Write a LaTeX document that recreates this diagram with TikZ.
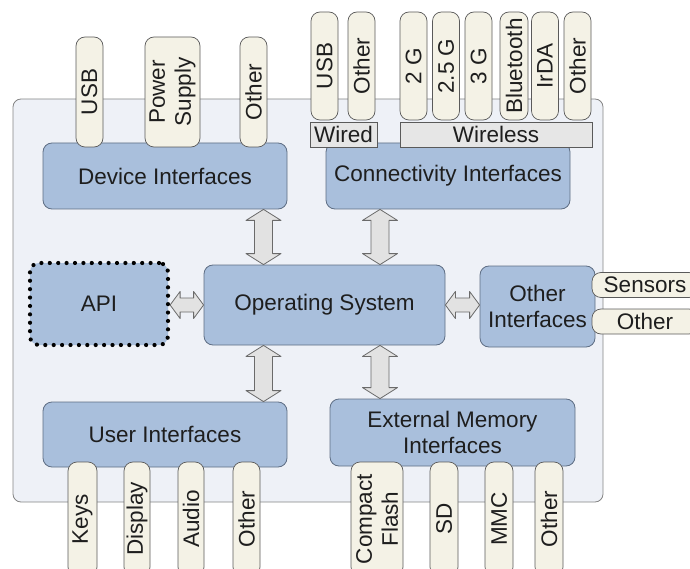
\documentclass[tikz,border=0pt]{standalone}
\usepackage{fontspec}
\setmainfont{Liberation Sans}
\usetikzlibrary{calc,positioning}

\definecolor{boardfill}{HTML}{EEF1F7}
\definecolor{boardline}{HTML}{858585}
\definecolor{boxfill}{HTML}{A9BFDC}
\definecolor{boxline}{HTML}{5E6E84}
\definecolor{tabfill}{HTML}{F4F2E6}
\definecolor{tabline}{HTML}{5A5A5A}
\definecolor{labfill}{HTML}{E6E6E6}
\definecolor{arrfill}{HTML}{E2E2E2}
\definecolor{arrline}{HTML}{6A6A6A}
\definecolor{txt}{HTML}{1E1E1E}

\tikzset{
  txtfont/.style={font=\fontsize{22.5}{26}\selectfont, text=txt},
  board/.style={draw=boardline, fill=boardfill, rounded corners=8pt, line width=0.8pt},
  block/.style={txtfont, draw=boxline, fill=boxfill, rounded corners=9pt, line width=0.8pt,
    align=center, inner sep=0pt},
  apibox/.style={block, draw=black, line width=4.2pt, line cap=round,
    dash pattern=on 0pt off 8.4pt},
  tabv/.style={txtfont, draw=tabline, fill=tabfill, rounded corners=9pt, rotate=90,
    inner sep=0pt, minimum height=27pt, align=center, line width=0.7pt},
  tabh/.style={txtfont, draw=tabline, fill=tabfill, rounded corners=9pt,
    inner sep=0pt, minimum width=106pt, minimum height=25pt, line width=0.7pt},
  grp/.style={txtfont, draw=tabline, fill=labfill, inner sep=0pt, minimum height=25pt,
    line width=0.7pt},
  dblarr/.style n args={3}{draw=arrline, fill=arrfill, line width=0.8pt, line join=round,
    to path={
      -- ($(\tikztostart)!#1!(\tikztotarget)!#2!90:(\tikztotarget)$)
      -- ($(\tikztostart)!#1!(\tikztotarget)!#3!90:(\tikztotarget)$)
      -- ($(\tikztotarget)!#1!(\tikztostart)!#3!-90:(\tikztostart)$)
      -- ($(\tikztotarget)!#1!(\tikztostart)!#2!-90:(\tikztostart)$)
      -- (\tikztotarget)
      -- ($(\tikztotarget)!#1!(\tikztostart)!#2!90:(\tikztostart)$)
      -- ($(\tikztotarget)!#1!(\tikztostart)!#3!90:(\tikztostart)$)
      -- ($(\tikztostart)!#1!(\tikztotarget)!#3!-90:(\tikztotarget)$)
      -- ($(\tikztostart)!#1!(\tikztotarget)!#2!-90:(\tikztotarget)$)
      -- cycle}},
  vconn/.style={dblarr={11pt}{17.5pt}{9pt}},
  hconn/.style={dblarr={10pt}{13.5pt}{7pt}}
}

\begin{document}
\begin{tikzpicture}[x=1pt,y=-1pt]
\useasboundingbox (0,0) rectangle (690,569);

% board
\draw[board] (13,99) rectangle (603,502);

% blocks
\node[block, minimum width=244pt, minimum height=66pt] (dev) at (165,176) {Device Interfaces};
\node[block, minimum width=244pt, minimum height=66pt] (conn) at (448,176) {Connectivity Interfaces};
\node[apibox, minimum width=138pt, minimum height=82pt] (api) at (99,304) {API};
\node[block, minimum width=241pt, minimum height=80pt] (os) at (324.5,305) {Operating System};
\node[block, minimum width=115pt, minimum height=81pt] (oth) at (537.5,306.5) {Other\\Interfaces};
\node[block, minimum width=244pt, minimum height=65pt] (user) at (165,434.5) {User Interfaces};
\node[block, minimum width=245pt, minimum height=67pt] (ext) at (452.5,432.5) {External Memory\\Interfaces};

% arrows
\coordinate (osdev) at ([xshift=-61pt]os.north);
\coordinate (devos) at (osdev |- dev.south);
\coordinate (osconn) at ([xshift=55.5pt]os.north);
\coordinate (connos) at (osconn |- conn.south);
\coordinate (osuser) at ([xshift=-61pt]os.south);
\coordinate (useros) at (osuser |- user.north);
\coordinate (osext) at ([xshift=55.5pt]os.south);
\coordinate (extos) at (osext |- ext.north);
\coordinate (apios) at (os.west -| api.east);
\coordinate (othos) at (os.east -| oth.west);
\draw[vconn] (devos) to (osdev);
\draw[vconn] (connos) to (osconn);
\draw[vconn] (osuser) to (useros);
\draw[vconn] (osext) to (extos);
\draw[hconn] (apios) to (os.west);
\draw[hconn] (os.east) to (othos);

% device tabs
\node[tabv, minimum width=110pt] (dusb) at (89.5,92) {USB};
\node[tabv, minimum width=110pt, minimum height=55pt] (dpow) at (172.5,92) {Power\\Supply};
\node[tabv, minimum width=110pt] (doth) at (253.5,92) {Other};

% connectivity tabs
\node[tabv, minimum width=108pt] (cusb) at (324.5,66) {USB};
\node[tabv, minimum width=108pt] (coth) at (361.5,66) {Other};
\node[tabv, minimum width=108pt] (c2g) at (413.5,66) {2 G};
\node[tabv, minimum width=108pt] (c25g) at (446,66) {2.5 G};
\node[tabv, minimum width=108pt] (c3g) at (478.5,66) {3 G};
\node[tabv, minimum width=108pt, minimum height=28pt] (cbt) at (514,66) {Bluetooth};
\node[tabv, minimum width=108pt] (cirda) at (545,66) {IrDA};
\node[tabv, minimum width=108pt] (cwoth) at (577.5,66) {Other};
\node[grp, minimum width=67pt] (wired) at (343.5,134.5) {Wired};
\node[grp, minimum width=192pt] (wireless) at (496,134.5) {Wireless};

% other tabs
\node[tabh] (sens) at (645,285) {Sensors};
\node[tabh] (soth) at (645,321.5) {Other};

% user tabs
\node[tabv, minimum width=114pt, minimum height=29pt] (keys) at (82.5,519) {Keys};
\node[tabv, minimum width=114pt, minimum height=26pt] (disp) at (137,519) {Display};
\node[tabv, minimum width=114pt, minimum height=26pt] (audio) at (191,519) {Audio};
\node[tabv, minimum width=114pt] (uoth) at (246.5,519) {Other};

% memory tabs
\node[tabv, minimum width=114pt, minimum height=52pt] (cf) at (377,519) {Compact\\Flash};
\node[tabv, minimum width=114pt, minimum height=28pt] (sd) at (444,519) {SD};
\node[tabv, minimum width=114pt, minimum height=28pt] (mmc) at (499,519) {MMC};
\node[tabv, minimum width=114pt, minimum height=28pt] (moth) at (549,519) {Other};
\end{tikzpicture}
\end{document}
